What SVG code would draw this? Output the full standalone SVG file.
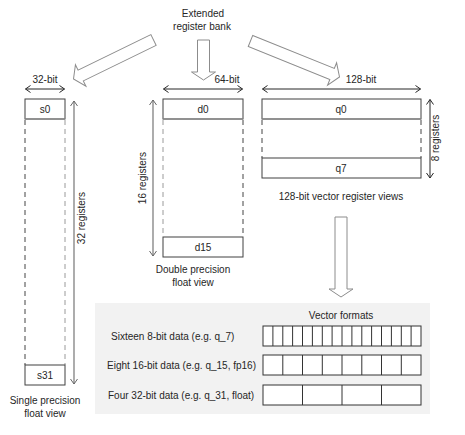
<svg xmlns="http://www.w3.org/2000/svg" width="465" height="435" viewBox="0 0 465 435">
<style>
text{font-family:"Liberation Sans",Arial,sans-serif;font-size:10px;fill:#262626}
.c{text-anchor:middle}
.box{fill:#fff;stroke:#404040;stroke-width:1}
.sep{stroke:#8c8c8c;stroke-width:1.5}
.dash{stroke-width:1;stroke-dasharray:5 4;fill:none}
.dk{stroke:#454545}
.lt{stroke:#9a9a9a}
.dim{stroke:#262626;stroke-width:1;fill:none}
.dimg{stroke:#808080;stroke-width:1.3;fill:none}
.blk{fill:#fff;stroke:#8c8c8c;stroke-width:1}
.cell{fill:#fff;stroke:#333;stroke-width:1}
</style>
<defs>
<marker id="ah" viewBox="-1 -1 7 9" refX="5" refY="3.5" markerWidth="7" markerHeight="9" markerUnits="userSpaceOnUse" orient="auto-start-reverse">
<path d="M0,0 L5,3.5 L0,7" fill="none" stroke="#262626" stroke-width="1"/>
</marker>
<marker id="ahg" viewBox="-1 -1 7 9" refX="5" refY="3.5" markerWidth="7" markerHeight="9" markerUnits="userSpaceOnUse" orient="auto-start-reverse">
<path d="M0,0 L5,3.5 L0,7" fill="none" stroke="#666" stroke-width="1"/>
</marker>
</defs>
<rect width="465" height="435" fill="#fff"/>

<g id="bank">
<text class="c" x="203" y="17">Extended</text>
<text class="c" x="202" y="30">register bank</text>
</g>

<g id="connectors">
<path class="blk" transform="translate(153.5,40) rotate(154)" d="M0,-6 H81 V-12 L89,0 L81,12 V6 H0 Z"/>
<path class="blk" transform="translate(203.5,40) rotate(90)" d="M0,-6 H32 V-12 L40,0 L32,12 V6 H0 Z"/>
<path class="blk" transform="translate(250.5,41) rotate(22)" d="M0,-6 H88 V-12 L96,0 L88,12 V6 H0 Z"/>
<path class="blk" transform="translate(341,217) rotate(90)" d="M0,-6 H72 V-12 L80,0 L72,12 V6 H0 Z"/>
</g>

<g id="single">
<text class="c" x="45" y="83">32-bit</text>
<line class="dim" x1="25.5" y1="89" x2="64.5" y2="89" marker-start="url(#ah)" marker-end="url(#ah)"/>
<rect class="box" x="25" y="99" width="40" height="20"/>
<line class="sep" x1="25" y1="119" x2="65" y2="119"/>
<text class="c" x="45" y="113">s0</text>
<line class="dash dk" x1="25" y1="120" x2="25" y2="365"/>
<line class="dash lt" x1="65" y1="120" x2="65" y2="365"/>
<rect class="box" x="25" y="365" width="40" height="20"/>
<text class="c" x="45" y="379">s31</text>
<line class="dimg" x1="74" y1="101" x2="74" y2="384" marker-start="url(#ahg)" marker-end="url(#ahg)"/>
<text class="c" transform="translate(85,218) rotate(-90)">32 registers</text>
<text class="c" x="45" y="404">Single precision</text>
<text class="c" x="45" y="417">float view</text>
</g>

<g id="double">
<text class="c" x="227" y="83">64-bit</text>
<line class="dim" x1="163.5" y1="89" x2="242.5" y2="89" marker-start="url(#ah)" marker-end="url(#ah)"/>
<rect class="box" x="163" y="99" width="80" height="20"/>
<line class="sep" x1="163" y1="119" x2="243" y2="119"/>
<text class="c" x="203" y="113">d0</text>
<line class="dash lt" x1="163" y1="120" x2="163" y2="237"/>
<line class="dash dk" x1="243" y1="120" x2="243" y2="237"/>
<rect class="box" x="163" y="237" width="80" height="20"/>
<text class="c" x="203" y="251">d15</text>
<line class="dimg" x1="153" y1="100" x2="153" y2="256" marker-start="url(#ahg)" marker-end="url(#ahg)"/>
<text class="c" transform="translate(146,178) rotate(-90)">16 registers</text>
<text class="c" x="193" y="273">Double precision</text>
<text class="c" x="193" y="286">float view</text>
</g>

<g id="vector">
<text class="c" x="361" y="83">128-bit</text>
<line class="dim" x1="262.5" y1="89" x2="420.5" y2="89" marker-start="url(#ah)" marker-end="url(#ah)"/>
<rect class="box" x="262" y="99" width="159" height="20"/>
<line class="sep" x1="262" y1="119" x2="421" y2="119"/>
<text class="c" x="341" y="113">q0</text>
<line class="dash dk" x1="262" y1="120" x2="262" y2="158"/>
<line class="dash dk" x1="421" y1="120" x2="421" y2="158"/>
<rect class="box" x="262" y="158" width="159" height="20"/>
<text class="c" x="341" y="172">q7</text>
<line class="dim" x1="430" y1="99.5" x2="430" y2="178" marker-start="url(#ah)" marker-end="url(#ah)"/>
<text class="c" transform="translate(439,138) rotate(-90)">8 registers</text>
<text class="c" x="341" y="200">128-bit vector register views</text>
</g>

<g id="formats">
<rect x="95" y="303" width="335" height="111" fill="#f2f2f2"/>
<text class="c" x="341" y="319">Vector formats</text>
<text x="111" y="340">Sixteen 8-bit data (e.g. q_7)</text>
<text x="107" y="369">Eight 16-bit data (e.g. q_15, fp16)</text>
<text x="108" y="399">Four 32-bit data (e.g. q_31, float)</text>
<g id="row16">
<rect class="cell" x="263" y="326" width="158" height="20"/>
<path class="cell" d="M272.9,326V346M282.8,326V346M292.6,326V346M302.5,326V346M312.4,326V346M322.3,326V346M332.1,326V346M342,326V346M351.9,326V346M361.8,326V346M371.6,326V346M381.5,326V346M391.4,326V346M401.3,326V346M411.1,326V346"/>
</g>
<g id="row8">
<rect class="cell" x="263" y="355" width="158" height="20"/>
<path class="cell" d="M282.8,355V375M302.5,355V375M322.3,355V375M342,355V375M361.8,355V375M381.5,355V375M401.3,355V375"/>
</g>
<g id="row4">
<rect class="cell" x="263" y="385" width="158" height="20"/>
<path class="cell" d="M302.5,385V405M342,385V405M381.5,385V405"/>
</g>
</g>
</svg>
